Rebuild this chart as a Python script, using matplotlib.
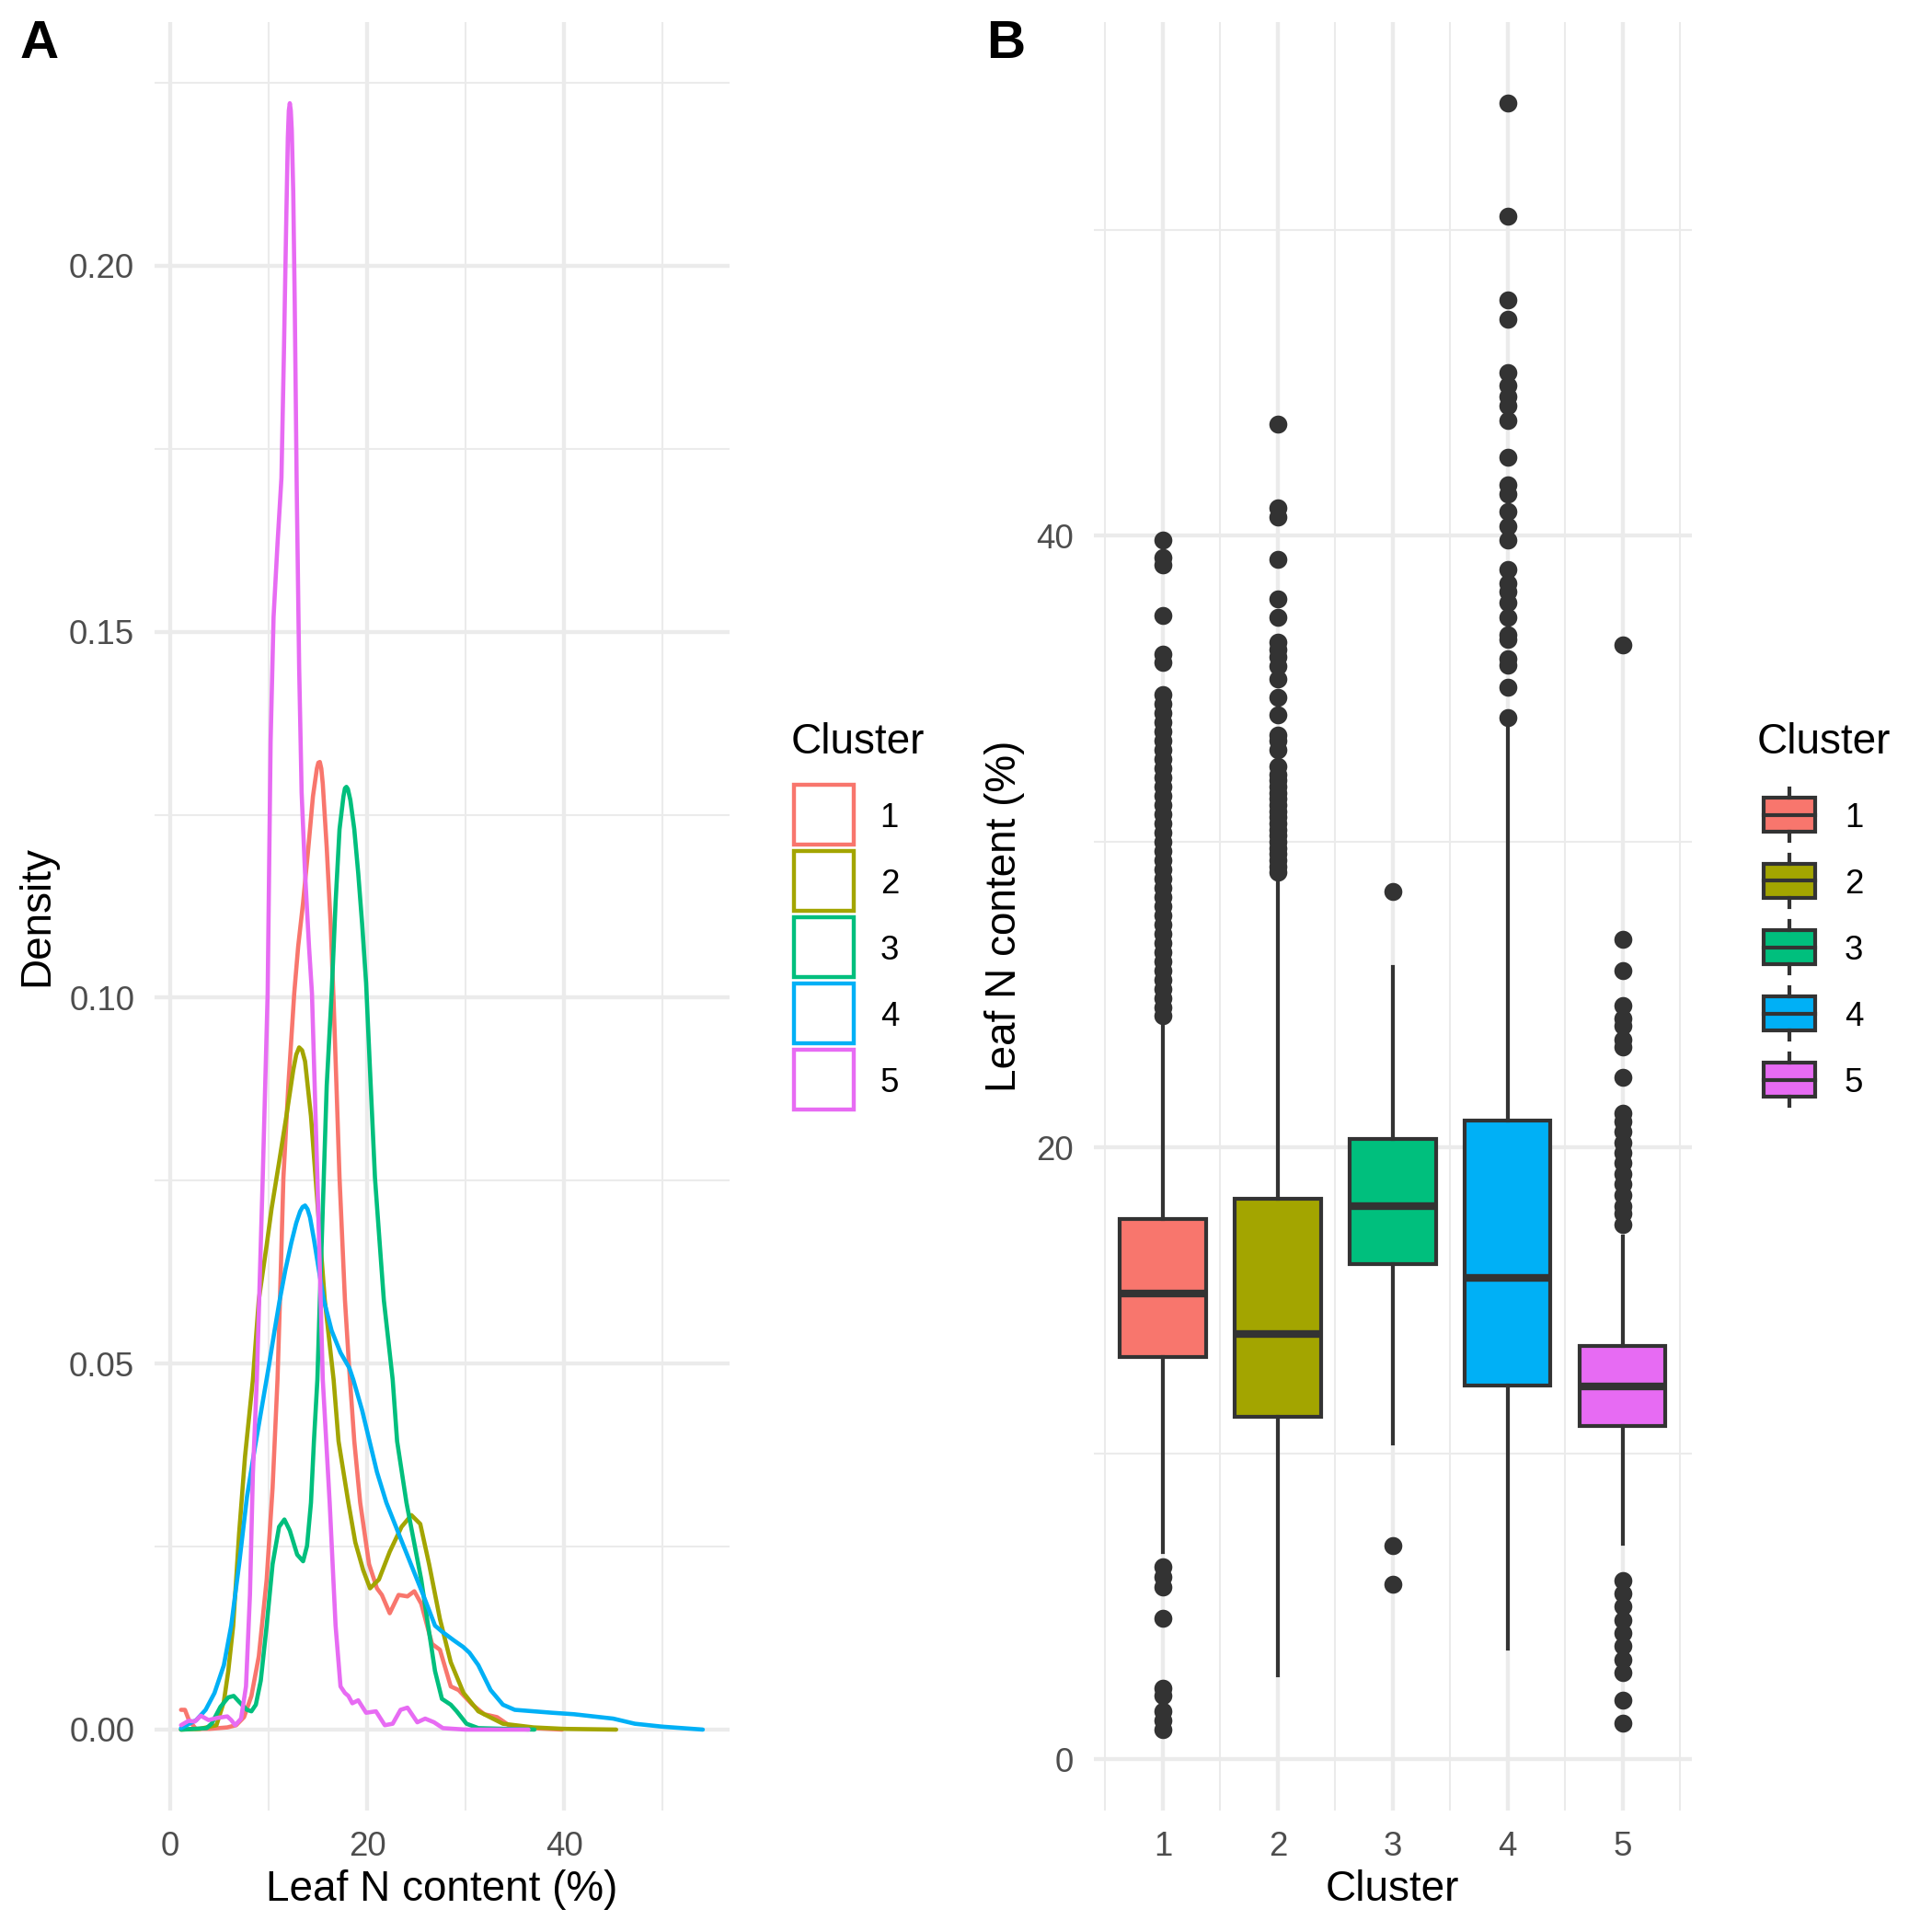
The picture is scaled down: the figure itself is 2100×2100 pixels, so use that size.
import matplotlib
matplotlib.use('Agg')
import matplotlib.pyplot as plt
from matplotlib.patches import Rectangle
from matplotlib.lines import Line2D

plt.rcParams['font.family'] = ['Liberation Sans', 'DejaVu Sans']

# ---------------- data ----------------
clusters = ['1', '2', '3', '4', '5']
colors = ['#F8766D', '#A3A500', '#00BF7D', '#00B0F6', '#E76BF3']

dens1_x = [1.1, 1.5, 1.9, 2.6, 4.0, 5.8, 6.7, 7.5, 8.25, 9.0, 9.8, 10.4, 10.9, 11.15, 11.5, 12.0,
           12.6, 13.0, 13.5, 14.0, 14.5, 14.9, 15.05, 15.2, 15.35, 15.5, 15.9, 16.3, 16.6, 16.9,
           17.2, 17.75, 18.2, 18.7, 19.3, 20.2, 21.0, 21.5, 22.3, 23.2, 24.1, 24.8, 25.5, 26.6,
           27.4, 28.5, 29.3, 30.7, 31.9, 33.2, 34.4, 36.9, 39.8]
dens1_y = [0.0027, 0.0027, 0.0013, 0.0001, 0.0001, 0.0003, 0.0006, 0.0017, 0.0046, 0.0100, 0.0205,
           0.0330, 0.0478, 0.0587, 0.0754, 0.0880, 0.1006, 0.1070, 0.1130, 0.1200, 0.1275, 0.1313,
           0.1321, 0.1322, 0.1313, 0.1292, 0.1205, 0.1100, 0.0995, 0.0875, 0.0754, 0.0587, 0.0490,
           0.0394, 0.0310, 0.0226, 0.0193, 0.0184, 0.0159, 0.0184, 0.0182, 0.0189, 0.0172, 0.0117,
           0.0109, 0.0059, 0.0054, 0.0034, 0.0021, 0.0017, 0.0006, 0.0002, 0.0000]

dens2_x = [1.1, 3.0, 4.7, 5.45, 5.9, 6.4, 7.0, 7.6, 8.4, 9.0, 9.8, 10.3, 11.06, 11.8, 12.5, 12.8,
           13.1, 13.4, 13.7, 14.3, 15.0, 15.7, 16.6, 17.1, 18.1, 18.8, 19.6, 20.3, 21.2, 22.3,
           23.5, 24.5, 25.4, 26.3, 27.4, 28.5, 29.8, 31.3, 33.8, 36.9, 40.0, 45.3]
dens2_y = [0.0000, 0.0001, 0.0006, 0.0038, 0.0080, 0.0142, 0.0268, 0.0373, 0.0478, 0.0587, 0.0662,
           0.0712, 0.0775, 0.0838, 0.0901, 0.0922, 0.0932, 0.0928, 0.0913, 0.0838, 0.0712, 0.0587,
           0.0478, 0.0394, 0.0310, 0.0256, 0.0218, 0.0193, 0.0205, 0.0243, 0.0277, 0.0293, 0.0281,
           0.0226, 0.0151, 0.0092, 0.0050, 0.0025, 0.0008, 0.0003, 0.0001, 0.0000]

dens3_x = [1.1, 3.7, 4.2, 5.1, 5.9, 6.45, 7.0, 7.8, 8.25, 8.7, 9.2, 9.8, 10.4, 11.06, 11.6, 12.15,
           12.9, 13.5, 13.9, 14.3, 14.6, 14.95, 15.2, 15.5, 15.9, 16.4, 16.8, 17.2, 17.6, 17.75,
           17.9, 18.05, 18.3, 18.7, 19.1, 19.5, 19.9, 20.3, 20.8, 21.25, 21.7, 22.6, 23.05, 24.0,
           24.9, 25.5, 26.2, 26.9, 27.6, 28.5, 29.1, 30.1, 31.3, 37.0]
dens3_y = [0.0000, 0.0002, 0.0008, 0.0031, 0.0044, 0.0046, 0.0038, 0.0027, 0.0025, 0.0034, 0.0067,
           0.0142, 0.0226, 0.0277, 0.0287, 0.0272, 0.0239, 0.0230, 0.0251, 0.0310, 0.0394, 0.0478,
           0.0587, 0.0712, 0.0880, 0.1006, 0.1130, 0.1230, 0.1275, 0.1286, 0.1288, 0.1285, 0.1270,
           0.1230, 0.1170, 0.1100, 0.1020, 0.0900, 0.0754, 0.0670, 0.0587, 0.0478, 0.0394, 0.0310,
           0.0247, 0.0205, 0.0142, 0.0080, 0.0042, 0.0034, 0.0025, 0.0008, 0.0002, 0.0000]

dens4_x = [1.1, 2.65, 3.6, 4.5, 5.45, 6.2, 7.0, 7.8, 8.6, 9.3, 10.0, 10.6, 11.1, 11.7, 12.3, 12.8,
           13.2, 13.45, 13.7, 13.95, 14.2, 14.6, 15.1, 15.6, 16.4, 17.3, 18.2, 18.6, 19.5, 20.25,
           21.0, 21.96, 23.2, 24.45, 25.7, 26.9, 27.6, 28.8, 29.75, 30.4, 31.3, 32.55, 33.8, 35.0,
           36.9, 38.8, 41.0, 43.0, 45.0, 47.2, 50.0, 54.1]
dens4_y = [0.0002, 0.0013, 0.0027, 0.0050, 0.0088, 0.0142, 0.0226, 0.0318, 0.0385, 0.0440, 0.0495,
           0.0545, 0.0585, 0.0628, 0.0665, 0.0692, 0.0708, 0.0714, 0.0716, 0.0711, 0.0700, 0.0670,
           0.0628, 0.0587, 0.0545, 0.0515, 0.0494, 0.0478, 0.0436, 0.0394, 0.0352, 0.0310, 0.0268,
           0.0226, 0.0184, 0.0142, 0.0134, 0.0122, 0.0113, 0.0105, 0.0088, 0.0054, 0.0034, 0.0027,
           0.0025, 0.0023, 0.0021, 0.0018, 0.0015, 0.0008, 0.0004, 0.0000]

dens5_x = [1.1, 1.87, 2.5, 3.1, 3.9, 4.8, 5.8, 6.2, 6.6, 7.2, 7.7, 8.1, 8.4, 8.8, 9.4, 9.9, 10.2,
           10.5, 10.9, 11.3, 11.55, 11.8, 11.95, 12.05, 12.15, 12.25, 12.35, 12.5, 12.65, 12.85,
           13.1, 13.35, 13.7, 14.1, 14.4, 14.95, 15.5, 16.2, 16.8, 17.3, 17.75, 18.1, 18.5, 19.1,
           19.9, 20.9, 21.8, 22.6, 23.4, 24.1, 25.1, 25.9, 26.8, 27.7, 30.0, 36.4]
dens5_y = [0.0006, 0.0012, 0.0011, 0.0019, 0.0013, 0.0016, 0.0018, 0.0013, 0.0006, 0.0015, 0.0059,
           0.0184, 0.0350, 0.0478, 0.0754, 0.1006, 0.1350, 0.1520, 0.1620, 0.1710, 0.1880, 0.2070,
           0.2175, 0.2212, 0.2222, 0.2212, 0.2185, 0.2100, 0.1950, 0.1700, 0.1450, 0.1280, 0.1170,
           0.1070, 0.1006, 0.0754, 0.0478, 0.0310, 0.0142, 0.0059, 0.0050, 0.0046, 0.0036, 0.0040,
           0.0023, 0.0025, 0.0006, 0.0008, 0.0027, 0.0030, 0.0010, 0.0015, 0.0010, 0.0002, 0.0000,
           0.0000]

dens_x = [dens1_x, dens2_x, dens3_x, dens4_x, dens5_x]
dens_y = [dens1_y, dens2_y, dens3_y, dens4_y, dens5_y]

box_med = [15.23, 13.90, 18.10, 15.73, 12.19]
box_q1 = [13.16, 11.20, 16.20, 12.22, 10.90]
box_q3 = [17.67, 18.33, 20.28, 20.88, 13.53]
box_whislo = [6.78, 2.74, 10.34, 3.62, 7.06]
box_whishi = [24.00, 28.80, 25.92, 33.71, 17.10]

fliers1 = [39.85, 39.3, 39.04, 37.4, 36.12, 35.85, 34.81, 34.5, 34.2, 33.9, 33.6, 33.3, 33.0, 32.7,
           32.4, 32.1, 31.8, 31.5, 31.2, 30.9, 30.6, 30.3, 30.0, 29.7, 29.4, 29.1, 28.8, 28.5, 28.2,
           27.9, 27.6, 27.3, 27.0, 26.7, 26.4, 26.1, 25.8, 25.5, 25.2, 24.9, 24.6, 24.3,
           6.29, 5.98, 5.63, 4.6, 2.33, 2.08, 1.58, 1.27, 0.98]
fliers2 = [43.66, 40.92, 40.63, 39.23, 37.95, 37.35, 36.54, 36.28, 36.04, 35.74, 35.33, 34.71, 34.14,
           33.48, 33.31, 33.0, 32.47, 32.2, 32.0, 31.8, 31.6, 31.4, 31.2, 31.0, 30.8, 30.6, 30.4,
           30.2, 30.0, 29.8, 29.6, 29.4, 29.2, 29.0]
fliers3 = [28.37, 7.0, 5.72]
fliers4 = [54.14, 50.45, 47.71, 47.09, 45.35, 44.92, 44.56, 44.25, 43.78, 42.58, 41.66, 41.37, 40.8,
           40.31, 39.86, 38.89, 38.46, 38.18, 37.83, 37.33, 36.76, 36.62, 35.98, 35.77, 35.06, 34.07]
fliers5 = [36.43, 26.81, 25.78, 24.66, 24.23, 23.97, 23.54, 23.28, 22.3, 21.12, 20.86, 20.52, 20.17,
           19.83, 19.49, 19.14, 18.8, 18.45, 18.1, 17.84, 17.5,
           5.86, 5.43, 5.0, 4.56, 4.13, 3.7, 3.27, 2.84, 1.93, 1.2]
fliers = [fliers1, fliers2, fliers3, fliers4, fliers5]

xticksA = [0, 20, 40]
yticksA = [0.00, 0.05, 0.10, 0.15, 0.20]
yticklabelsA = ['0.00', '0.05', '0.10', '0.15', '0.20']
yticksB = [0, 20, 40]

# ---------------- layout helpers (pixel -> figure fraction) ----------------
W = 2100.0
def fx(px):
    return px / W
def fy(py):
    return 1 - py / W

GRID = '#EBEBEB'
DARK = '#333333'
TICKC = '#4D4D4D'

fig = plt.figure(figsize=(7, 7), dpi=300)
fig.patch.set_facecolor('white')

top_px, bot_px = 23.9, 1968.3
axA = fig.add_axes([fx(168.3), fy(bot_px), (792.8 - 168.3) / W, (bot_px - top_px) / W])
axB = fig.add_axes([fx(1189.0), fy(bot_px), (1838.5 - 1189.0) / W, (bot_px - top_px) / W])

def style(ax):
    for s in ax.spines.values():
        s.set_visible(False)
    ax.set_axisbelow(True)
    ax.grid(True, which='major', color=GRID, linewidth=1.05)
    ax.grid(True, which='minor', color=GRID, linewidth=0.5)
    ax.tick_params(which='both', length=0, labelsize=8.8, labelcolor=TICKC, pad=5.3)

# ---------------- Panel A: density ----------------
for xs, ys, c in zip(dens_x, dens_y, colors):
    axA.plot(xs, ys, color=c, linewidth=1.1, solid_joinstyle='round', solid_capstyle='round')
axA.set_xlim(-1.56, 56.8)
axA.set_ylim(-0.0111, 0.2333)
axA.set_xticks(xticksA)
axA.set_xticks([10, 30, 50], minor=True)
axA.set_yticks(yticksA)
axA.set_yticklabels(yticklabelsA)
axA.set_yticks([0.025, 0.075, 0.125, 0.175, 0.225], minor=True)
style(axA)

# ---------------- Panel B: boxplot ----------------
stats = []
for i in range(5):
    stats.append(dict(med=box_med[i], q1=box_q1[i], q3=box_q3[i],
                      whislo=box_whislo[i], whishi=box_whishi[i], fliers=fliers[i]))
positions = list(range(1, 6))
bp = axB.bxp(stats, positions=positions, widths=0.75, patch_artist=True, showcaps=False,
             boxprops=dict(edgecolor=DARK, linewidth=1.0),
             whiskerprops=dict(color=DARK, linewidth=1.0),
             medianprops=dict(color=DARK, linewidth=2.0, solid_capstyle='butt'),
             flierprops=dict(marker='o', markerfacecolor=DARK, markeredgecolor=DARK,
                             markeredgewidth=0, markersize=4.7, linestyle='none'))
for patch, c in zip(bp['boxes'], colors):
    patch.set_facecolor(c)
axB.set_xlim(0.4, 5.6)
axB.set_ylim(-1.68, 56.8)
axB.set_xticks(positions)
axB.set_xticklabels(clusters)
axB.set_xticks([0.5, 1.5, 2.5, 3.5, 4.5, 5.5], minor=True)
axB.set_yticks(yticksB)
axB.set_yticks([10, 30, 50], minor=True)
style(axB)

# ---------------- axis titles ----------------
fig.text(fx(480.5), fy(2066), 'Leaf N content (%)', fontsize=11, ha='center', va='baseline')
fig.text(fx(1513.7), fy(2066), 'Cluster', fontsize=11, ha='center', va='baseline')
fig.text(fx(40), fy(996), 'Density', fontsize=11, rotation=90, ha='center', va='center')
fig.text(fx(1091.5), fy(996), 'Leaf N content (%)', fontsize=11, rotation=90, ha='center', va='center')

# ---------------- panel labels ----------------
fig.text(fx(21.7), fy(62.7), 'A', fontsize=14, fontweight='bold', ha='left', va='baseline')
fig.text(fx(1071.7), fy(62.7), 'B', fontsize=14, fontweight='bold', ha='left', va='baseline')

# ---------------- legends ----------------
row0, pitch = 885.5, 72.0
# Left legend (outlined squares)
fig.text(fx(860), fy(819), 'Cluster', fontsize=11, ha='left', va='baseline')
for i, (lab, c) in enumerate(zip(clusters, colors)):
    cy = row0 + pitch * i
    side = 65.5
    fig.add_artist(Rectangle((fx(895.5 - side / 2), fy(cy + side / 2)), side / W, side / W,
                             transform=fig.transFigure, facecolor='white', edgecolor=c,
                             linewidth=1.05))
    fig.text(fx(956.7), fy(cy + 13.1), lab, fontsize=8.8, ha='left', va='baseline')

# Right legend (boxplot keys)
fig.text(fx(1910), fy(819), 'Cluster', fontsize=11, ha='left', va='baseline')
for i, (lab, c) in enumerate(zip(clusters, colors)):
    cy = row0 + pitch * i
    cx = 1945.0
    bw, bh = 56.6, 37.0
    fig.add_artist(Line2D([fx(cx), fx(cx)], [fy(cy - 28.5), fy(cy - bh / 2)],
                          transform=fig.transFigure, color=DARK, linewidth=1.0))
    fig.add_artist(Line2D([fx(cx), fx(cx)], [fy(cy + bh / 2), fy(cy + 28.5)],
                          transform=fig.transFigure, color=DARK, linewidth=1.0))
    fig.add_artist(Rectangle((fx(cx - bw / 2), fy(cy + bh / 2)), bw / W, bh / W,
                             transform=fig.transFigure, facecolor=c, edgecolor=DARK,
                             linewidth=1.0))
    fig.add_artist(Line2D([fx(cx - bw / 2), fx(cx + bw / 2)], [fy(cy), fy(cy)],
                          transform=fig.transFigure, color=DARK, linewidth=1.0))
    fig.text(fx(2005), fy(cy + 13.1), lab, fontsize=8.8, ha='left', va='baseline')

fig.savefig('out.png', dpi=300, facecolor='white')
